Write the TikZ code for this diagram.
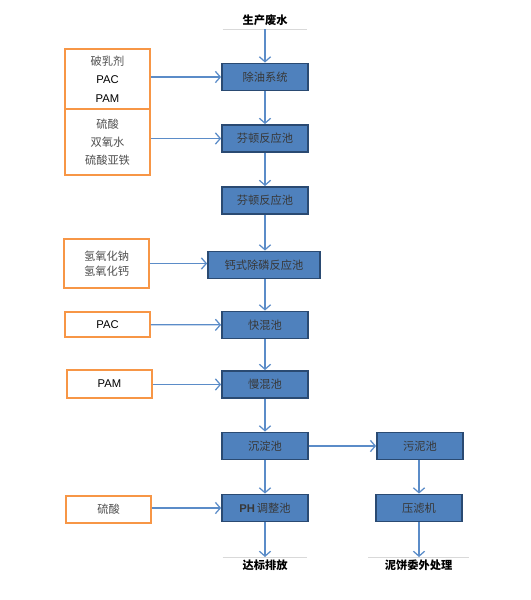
\documentclass[tikz,border=0pt]{standalone}
\usepackage{fontspec}
\setmainfont{Liberation Sans}
\newfontfamily\cjk{Noto Sans CJK SC}
\usetikzlibrary{arrows.meta}
\definecolor{boxblue}{HTML}{4F81BD}
\definecolor{boxline}{HTML}{2A4A72}
\definecolor{flowblue}{HTML}{5B8CC8}
\definecolor{addorange}{HTML}{F79646}
\definecolor{txtgray}{HTML}{505050}
\begin{document}
\begin{tikzpicture}[
        x=0.025cm, y=-0.025cm,
        proc/.style={draw=boxline, line width=1.2pt, fill=boxblue, minimum width=2.15cm,
            minimum height=0.68cm, inner sep=1pt, font=\cjk\fontsize{8}{9}\selectfont, text=txtgray!70!black},
        chem/.style={draw=addorange, line width=1.3pt, fill=white, minimum width=2.12cm,
            align=center, inner sep=1pt, font=\fontsize{8}{13}\selectfont, text=txtgray},
        term/.style={minimum width=2.1cm, inner sep=2pt, anchor=north, text=black,
            font=\cjk\bfseries\fontsize{8}{9}\selectfont},
        flow/.style={draw=flowblue, line width=0.9pt, -{Straight Barb[length=3.5pt,width=8pt]}},
        rule/.style={draw=black!15, line width=0.6pt}
    ]
        \useasboundingbox (0,0) rectangle (531,600);

        % main line
        \node[term, anchor=south] (src) at (265,29) {生产废水};
        \node[proc] (oil) at (265,77) {除油系统};
        \node[proc] (fen1) at (265,138.5) {芬顿反应池};
        \node[proc] (fen2) at (265,200.5) {芬顿反应池};
        \node[proc, minimum width=2.8cm] (cap) at (264,265) {钙式除磷反应池};
        \node[proc] (fast) at (265,325) {快混池};
        \node[proc] (slow) at (265,384.5) {慢混池};
        \node[proc] (sed) at (265,446) {沉淀池};
        \node[proc] (ph) at (265,508) {{\normalfont\bfseries PH}\,调整池};
        \node[term] (out) at (265,557) {达标排放};

        % sludge line
        \node[proc] (sludge) at (420,446) {污泥池};
        \node[proc] (press) at (419,508) {压滤机};
        \node[term, minimum width=2.5cm] (cake) at (418.5,557) {泥饼委外处理};

        % dosing boxes
        \node[chem, minimum height=1.5cm] (add1) at (107.5,79) {{\cjk 破乳剂}\\\textcolor{black}{PAC}\\\textcolor{black}{PAM}};
        \node[chem, minimum height=1.65cm] (add2) at (107.5,142) {\cjk 硫酸\\\cjk 双氧水\\\cjk 硫酸亚铁};
        \node[chem, minimum height=1.22cm, font=\cjk\fontsize{8}{11}\selectfont] (add3) at (106.5,263.5) {氢氧化钠\\氢氧化钙};
        \node[chem, minimum height=0.63cm, text=black] (add4) at (107.5,324.5) {PAC};
        \node[chem, minimum height=0.68cm, text=black] (add5) at (109.5,384) {PAM};
        \node[chem, minimum height=0.68cm, font=\cjk\fontsize{8}{9}\selectfont] (add6) at (108.5,509.5) {硫酸};

        % rules under / over the end texts
        \draw[rule] (src.south west) -- (src.south east);
        \draw[rule] (out.north west) -- (out.north east);
        \draw[rule] (cake.north west) -- (cake.north east);

        % flow arrows
        \draw[flow] (src.south) -- (oil);
        \draw[flow] (oil) -- (fen1);
        \draw[flow] (fen1) -- (fen2);
        \draw[flow] (fen2) -- (fen2 |- cap.north);
        \draw[flow] (cap.south -| fast) -- (fast);
        \draw[flow] (fast) -- (slow);
        \draw[flow] (slow) -- (sed);
        \draw[flow] (sed) -- (ph);
        \draw[flow] (ph) -- (out.north);
        \draw[flow] (sed) -- (sludge);
        \draw[flow] (sludge.south -| press) -- (press);
        \draw[flow] (press) -- (press |- cake.north);

        % dosing arrows
        \draw[flow] (add1.east |- oil) -- (oil);
        \draw[flow] (add2.east |- fen1) -- (fen1);
        \draw[flow] (add3) -- (add3 -| cap.west);
        \draw[flow] (add4) -- (fast);
        \draw[flow] (add5.east |- slow) -- (slow);
        \draw[flow] (add6.east |- ph) -- (ph);
    \end{tikzpicture}
\end{document}
